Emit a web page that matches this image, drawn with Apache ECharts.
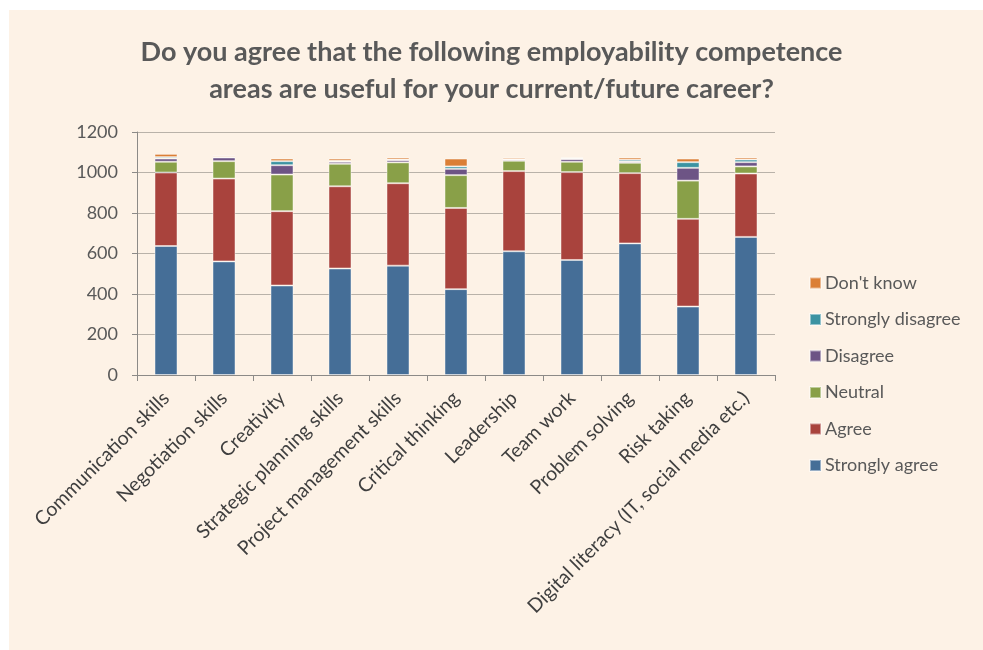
<!DOCTYPE html>
<html>
<head>
<meta charset="utf-8">
<script src="https://cdn.jsdelivr.net/npm/echarts@6/dist/echarts.min.js"></script>
<style>
  html, body { margin: 0; padding: 0; background: #ffffff; }
  #main { width: 983px; height: 650px; }
</style>
</head>
<body>
<div id="main"></div>
<script>
var categories = [
    "Communication skills",
    "Negotiation skills",
    "Creativity",
    "Strategic planning skills",
    "Project management skills",
    "Critical thinking",
    "Leadership",
    "Team work",
    "Problem solving",
    "Risk taking",
    "Digital literacy (IT, social media etc.)"
];

// responses per answer, stacked bottom to top
var stronglyAgree    = [637, 561, 442, 526, 540, 424, 611, 568, 650, 338, 682];
var agree            = [363, 409, 367, 406, 407, 401, 396, 434, 347, 433, 313];
var neutral          = [53, 86, 181, 111, 103, 162, 51, 51, 51, 189, 35];
var disagree         = [16, 18, 46, 10, 11, 31, 6, 13, 6, 63, 21];
var stronglyDisagree = [7, 4, 20, 5, 3, 12, 2, 3, 9, 28, 13];
var dontKnow         = [16, 6, 13, 11, 10, 39, 8, 5, 11, 18, 10];

var yTicks = [0, 200, 400, 600, 800, 1000, 1200];

var font = "Lato";
var textColor = "#595959";

var dom = document.getElementById("main");
var myChart = echarts.init(dom);

function barSeries(name, data, color) {
    return {
        name: name,
        type: 'bar',
        stack: 'total',
        barWidth: 23,
        data: data,
        itemStyle: {
            color: color,
            borderColor: 'rgba(255,255,255,0.45)',
            borderWidth: 1
        }
    };
}

var option = {
    backgroundColor: '#ffffff',
    animation: false,
    graphic: [{
        type: 'rect',
        left: 9,
        top: 10,
        shape: { width: 974, height: 640 },
        style: { fill: '#FDF2E6' },
        z: -10
    }],
    title: {
        text: 'Do you agree that the following employability competence\nareas are useful for your current/future career?',
        left: 'center',
        top: 29,
        textStyle: {
            fontFamily: font,
            fontWeight: 'bold',
            fontSize: 27,
            lineHeight: 37,
            color: textColor
        }
    },
    legend: {
        orient: 'vertical',
        left: 804,
        top: 269,
        itemWidth: 11,
        itemHeight: 11,
        itemGap: 18.5,
        icon: 'rect',
        data: ["Don't know", "Strongly disagree", "Disagree", "Neutral", "Agree", "Strongly agree"],
        textStyle: {
            fontFamily: font,
            fontSize: 18,
            lineHeight: 18,
            color: textColor,
            padding: [0, 0, 0, -1]
        }
    },
    grid: {
        left: 137,
        right: 208,
        top: 132,
        bottom: 275
    },
    xAxis: {
        type: 'category',
        data: categories,
        axisLine: { lineStyle: { color: '#8C8A87', width: 1 } },
        axisTick: { show: true, length: 6, alignWithLabel: false, lineStyle: { color: '#8C8A87' } },
        axisLabel: {
            rotate: 45,
            interval: 0,
            margin: 20,
            fontFamily: font,
            fontSize: 19.5,
            color: '#3F3F3F'
        }
    },
    yAxis: {
        type: 'value',
        min: yTicks[0],
        max: yTicks[yTicks.length - 1],
        interval: 200,
        axisLine: { show: true, lineStyle: { color: '#8C8A87' } },
        axisTick: { show: true, length: 5, lineStyle: { color: '#8C8A87' } },
        splitLine: { lineStyle: { color: '#B9B2A9', width: 1 } },
        axisLabel: {
            margin: 19,
            fontFamily: font,
            fontSize: 18,
            color: textColor,
            formatter: function (v) { return String(v); }
        }
    },
    series: [
        barSeries('Strongly agree', stronglyAgree, '#456E97'),
        barSeries('Agree', agree, '#A9433D'),
        barSeries('Neutral', neutral, '#89A048'),
        barSeries('Disagree', disagree, '#6D5485'),
        barSeries('Strongly disagree', stronglyDisagree, '#3C93A2'),
        barSeries("Don't know", dontKnow, '#DB7F36')
    ]
};

if (option && typeof option === "object") {
    myChart.setOption(option, true);
}
</script>
</body>
</html>
